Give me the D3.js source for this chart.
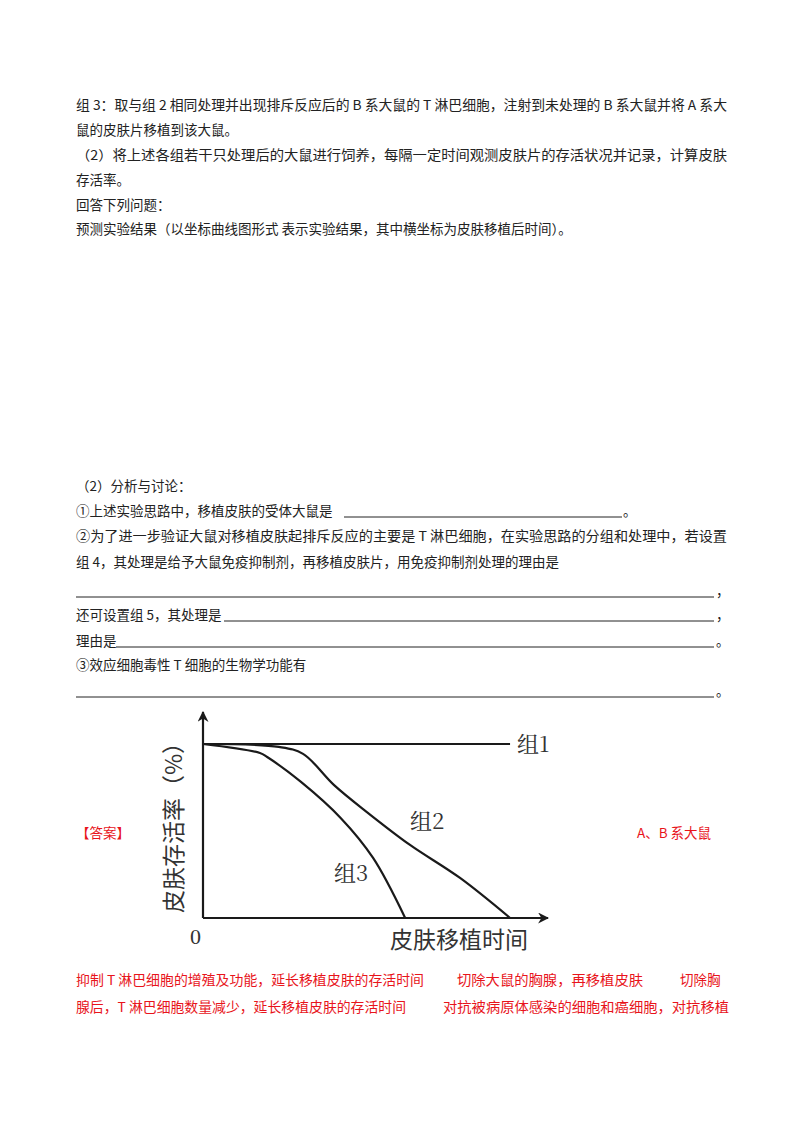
<!DOCTYPE html>
<html><head><meta charset="utf-8">
<script src="https://cdn.jsdelivr.net/npm/d3@7"></script>
<style>body{margin:0;background:#fff}</style>
</head><body>
<script>
// data: skin survival rate (%) vs time after graft (arbitrary units 0..100)
const group1 = [[0,100],[89,100]];
const group2 = [[0,100],[22,98.3],[29,94.3],[38,76.4],[47.5,60.9],[60,42],[74.5,23],[89,0]];
const group3 = [[0,100],[16.5,94.8],[18.6,92.5],[28.4,78.2],[39.9,57.5],[49.3,34.5],[58.6,0]];
const seriesLabels = ["组1","组2","组3"];

const svg = d3.select("body").append("svg").attr("width",800).attr("height",1132);
const font = "'Noto Sans CJK SC', sans-serif";

// body text
const lines = [
  {x:76,y:110,t:"组 3：取与组 2 相同处理并出现排斥反应后的 B 系大鼠的 T 淋巴细胞，注射到未处理的 B 系大鼠并将 A 系大",w:651},
  {x:76,y:135,t:"鼠的皮肤片移植到该大鼠。"},
  {x:76,y:160,t:"（2）将上述各组若干只处理后的大鼠进行饲养，每隔一定时间观测皮肤片的存活状况并记录，计算皮肤",w:651},
  {x:76,y:185,t:"存活率。"},
  {x:76,y:210,t:"回答下列问题："},
  {x:76,y:234,t:"预测实验结果（以坐标曲线图形式 表示实验结果，其中横坐标为皮肤移植后时间）。"},
  {x:76,y:491,t:"（2）分析与讨论："},
  {x:76,y:516,t:"①上述实验思路中，移植皮肤的受体大鼠是"},
  {x:623,y:516,t:"。"},
  {x:76,y:541,t:"②为了进一步验证大鼠对移植皮肤起排斥反应的主要是 T 淋巴细胞，在实验思路的分组和处理中，若设置",w:651},
  {x:76,y:567,t:"组 4，其处理是给予大鼠免疫抑制剂，再移植皮肤片，用免疫抑制剂处理的理由是"},
  {x:716,y:596,t:"，"},
  {x:76,y:620,t:"还可设置组 5，其处理是"},
  {x:716,y:620,t:"，"},
  {x:76,y:646,t:"理由是"},
  {x:716,y:646,t:"。"},
  {x:76,y:670,t:"③效应细胞毒性 T 细胞的生物学功能有"},
  {x:716,y:696,t:"。"}
];
lines.forEach(l=>{
  const t = svg.append("text").attr("x",l.x).attr("y",l.y).attr("font-family",font)
    .attr("font-size",13.5).attr("fill","#222").text(l.t);
  if(l.w) t.attr("textLength",l.w).attr("lengthAdjust","spacingAndGlyphs");
});
const blanks = [[344,622,517],[76,714,597],[224,714,621],[116,714,647],[76,714,697]];
blanks.forEach(b=>svg.append("line").attr("x1",b[0]).attr("x2",b[1]).attr("y1",b[2]).attr("y2",b[2])
  .attr("stroke","#222").attr("stroke-width",1));

// answer text (red)
const red = [
  {x:76,y:838,t:"【答案】"},
  {x:637,y:838,t:"A、B 系大鼠"},
  {x:76,y:985,t:"抑制 T 淋巴细胞的增殖及功能，延长移植皮肤的存活时间",w:348},
  {x:457,y:985,t:"切除大鼠的胸腺，再移植皮肤",w:186},
  {x:680,y:985,t:"切除胸"},
  {x:76,y:1012,t:"腺后，T 淋巴细胞数量减少，延长移植皮肤的存活时间",w:330},
  {x:443,y:1012,t:"对抗被病原体感染的细胞和癌细胞，对抗移植",w:286}
];
red.forEach(l=>{
  const t = svg.append("text").attr("x",l.x).attr("y",l.y).attr("font-family",font)
    .attr("font-size",13.5).attr("fill","#e8141b").text(l.t);
  if(l.w) t.attr("textLength",l.w).attr("lengthAdjust","spacingAndGlyphs");
});

// chart
const x = d3.scaleLinear().domain([0,100]).range([203,548]);
const y = d3.scaleLinear().domain([0,100]).range([918,744]);
const g = svg.append("g");
const ink = "#1a1a1a";
svg.append("defs").append("marker").attr("id","arr").attr("viewBox","0 0 10 10")
  .attr("refX",9).attr("refY",5).attr("markerWidth",5).attr("markerHeight",5).attr("orient","auto")
  .append("path").attr("d","M0,0L10,5L0,10L3,5Z").attr("fill",ink);
g.append("line").attr("x1",x(0)).attr("x2",x(100)).attr("y1",y(0)).attr("y2",y(0))
  .attr("stroke",ink).attr("stroke-width",2.2).attr("marker-end","url(#arr)");
g.append("line").attr("x1",x(0)).attr("x2",x(0)).attr("y1",y(0)).attr("y2",712)
  .attr("stroke",ink).attr("stroke-width",2.2).attr("marker-end","url(#arr)");

const line = d3.line().x(d=>x(d[0])).y(d=>y(d[1])).curve(d3.curveCatmullRom.alpha(0.5));
[group1,group2,group3].forEach(s=>g.append("path").attr("d",line(s))
  .attr("fill","none").attr("stroke",ink).attr("stroke-width",2.2));

const labelPos = [[group1[1][0]+2,100,8],[60,56,8],[38,26,8]];
labelPos.forEach((p,i)=>g.append("text").attr("x",x(p[0])).attr("y",y(p[1])+p[2])
  .attr("font-family","'Noto Serif CJK SC','Noto Sans CJK SC',serif").attr("font-size",22)
  .attr("fill","#333").text(seriesLabels[i]));
g.append("text").attr("x",190).attr("y",944).attr("font-family","'Liberation Serif',serif")
  .attr("font-size",22).attr("fill","#333").text("0");
g.append("text").attr("x",390).attr("y",948).attr("font-family",font)
  .attr("font-size",23).attr("fill","#333").text("皮肤移植时间");
g.append("text").attr("transform","translate(182,822) rotate(-90)").attr("text-anchor","middle")
  .attr("font-family",font).attr("font-size",23).attr("fill","#333").text("皮肤存活率（%）");
</script>
</body></html>
